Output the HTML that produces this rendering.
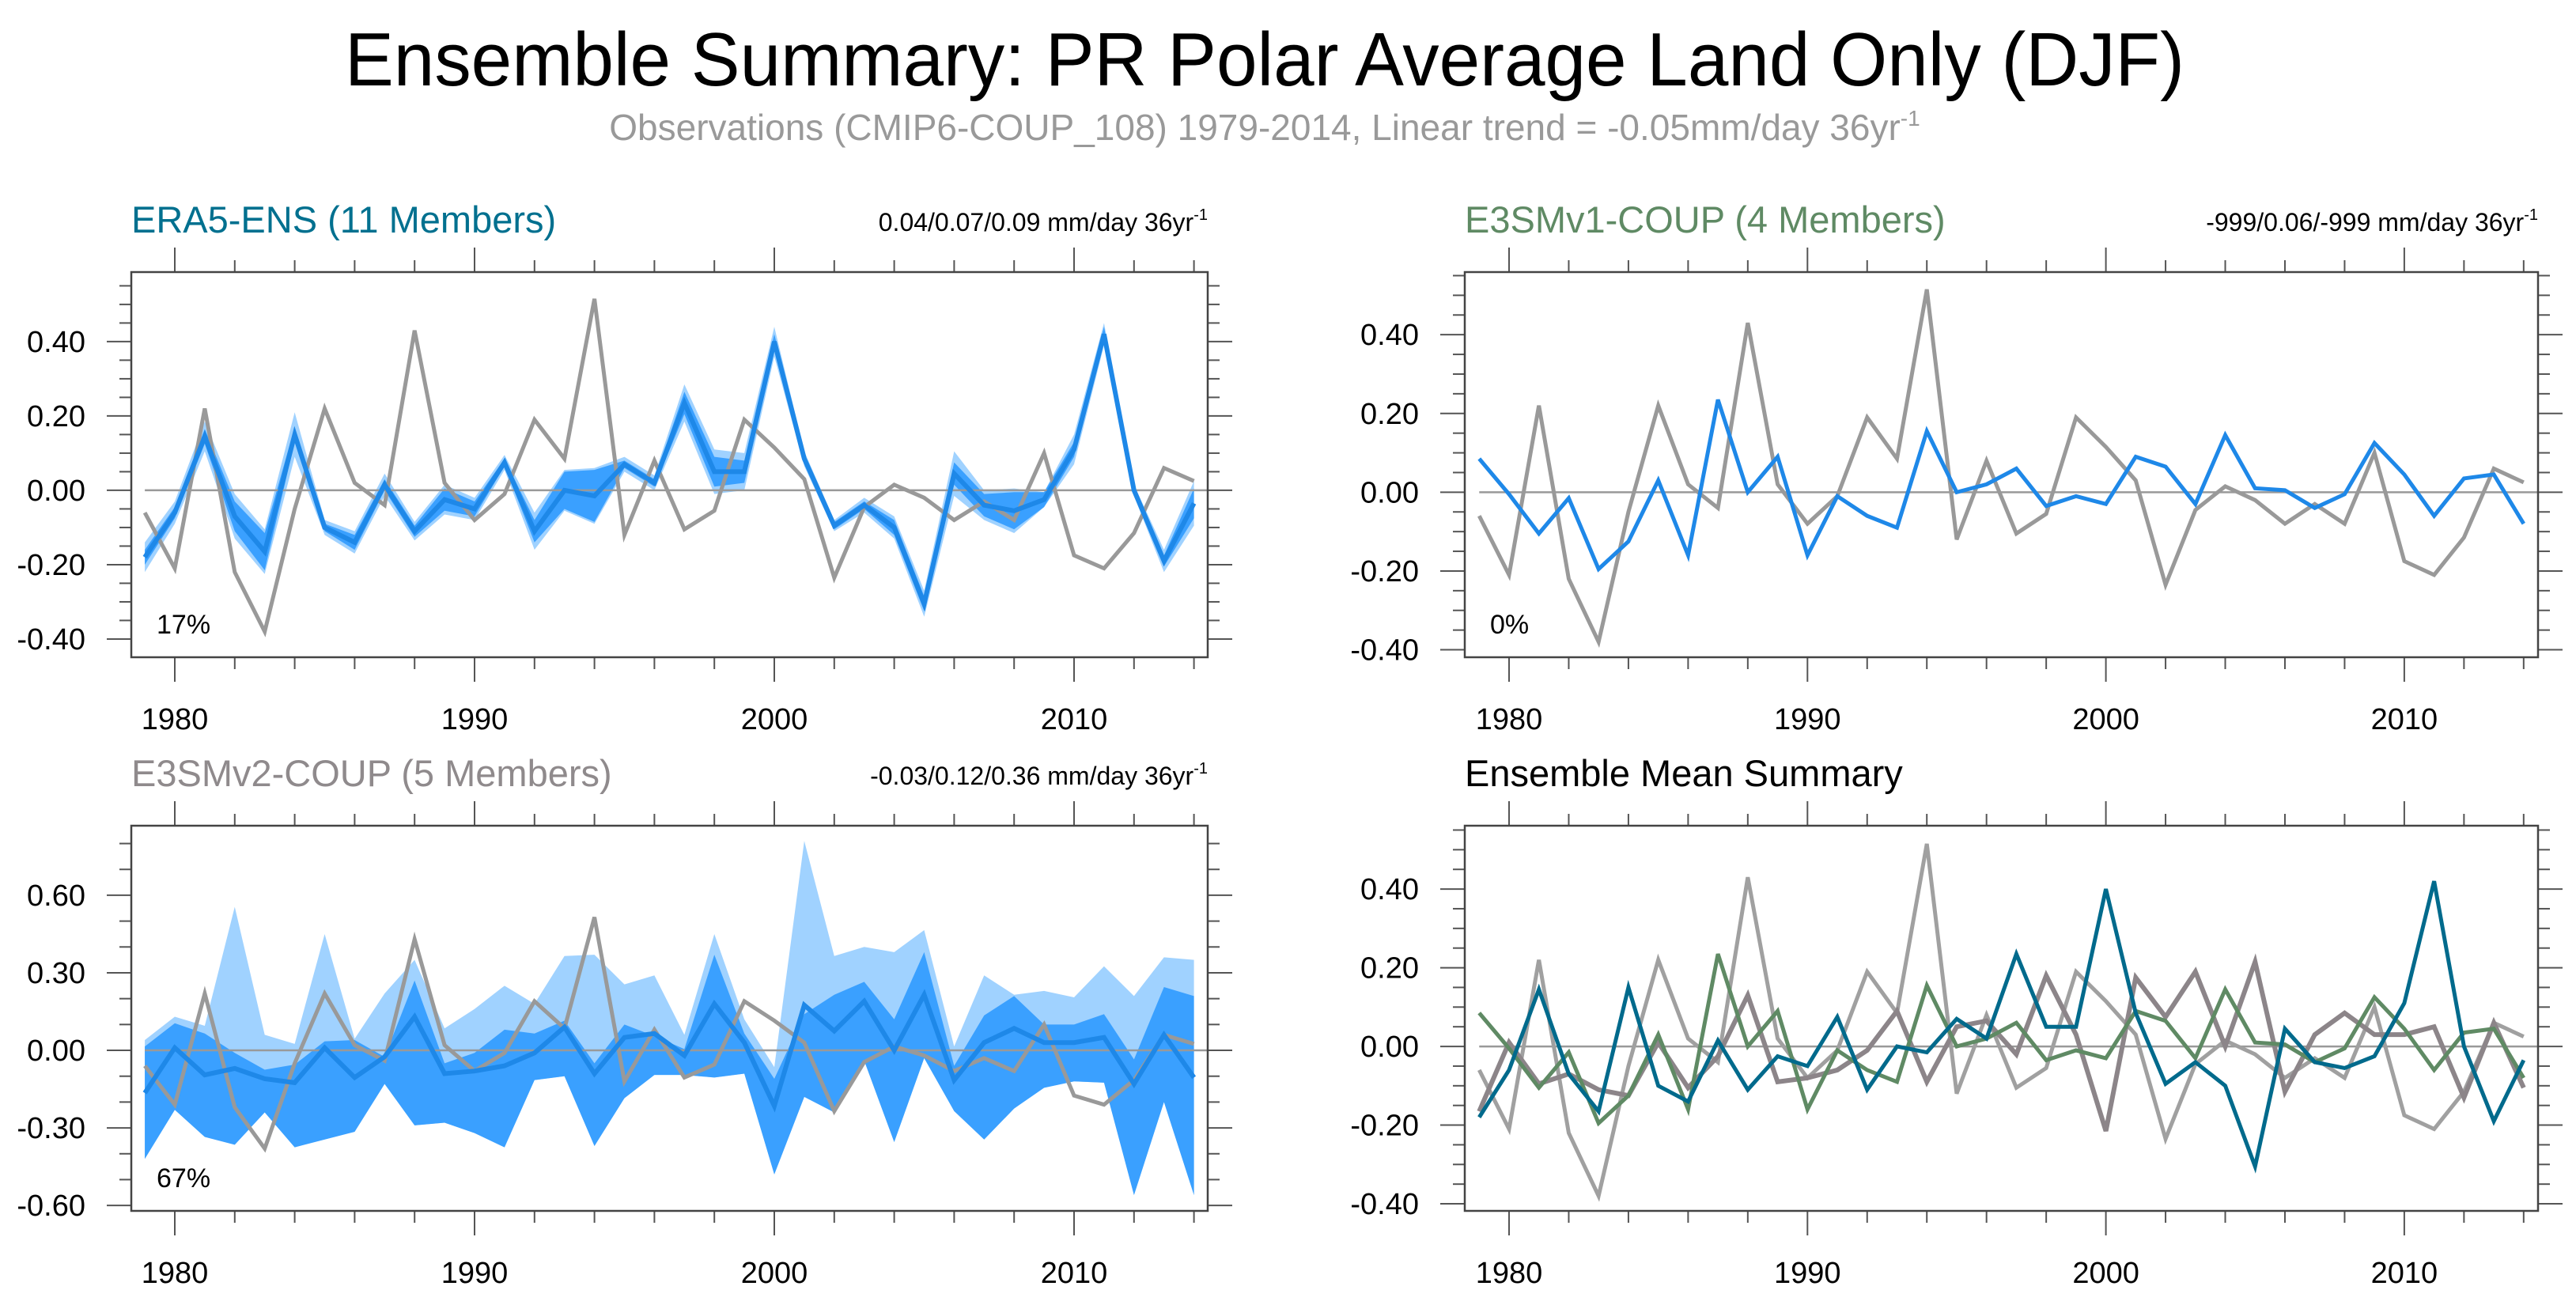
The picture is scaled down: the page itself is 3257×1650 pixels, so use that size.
<!DOCTYPE html>
<html><head><meta charset="utf-8"><style>
html,body{margin:0;padding:0;background:#fff;}
svg{display:block;font-family:"Liberation Sans",sans-serif;}
</style></head><body>
<svg id="chart" width="3257" height="1650" viewBox="0 0 3257 1650" xmlns="http://www.w3.org/2000/svg">
<text x="1599" y="108" text-anchor="middle" font-size="96" textLength="2326" lengthAdjust="spacingAndGlyphs" fill="#000">Ensemble Summary: PR Polar Average Land Only (DJF)</text>
<text x="1599" y="177" text-anchor="middle" font-size="46" fill="#999">Observations (CMIP6-COUP_108) 1979-2014, Linear trend = -0.05mm/day 36yr<tspan dy="-18" font-size="28">-1</tspan></text>
<g id="panels"></g>
</svg>
<script>
const years = [];
for (let y = 1979; y <= 2014; y++) years.push(y);
const obs = [-0.06,-0.21,0.22,-0.22,-0.38,-0.05,0.22,0.02,-0.04,0.43,0.02,-0.08,-0.01,0.19,0.085,0.515,-0.12,0.08,-0.105,-0.055,0.19,0.115,0.03,-0.235,-0.045,0.015,-0.02,-0.08,-0.03,-0.08,0.10,-0.175,-0.21,-0.115,0.06,0.025];
const era5Mean = [-0.18,-0.06,0.145,-0.07,-0.165,0.15,-0.10,-0.14,0.015,-0.11,-0.025,-0.05,0.075,-0.11,0.0,-0.015,0.07,0.02,0.235,0.05,0.05,0.40,0.085,-0.095,-0.04,-0.10,-0.305,0.045,-0.04,-0.055,-0.025,0.11,0.42,0.0,-0.19,-0.035];
const era5DarkHalf = [0.02,0.015,0.02,0.04,0.05,0.02,0.01,0.02,0.015,0.015,0.03,0.02,0.01,0.03,0.05,0.07,0.01,0.01,0.03,0.04,0.03,0.02,0.015,0.01,0.01,0.02,0.02,0.03,0.03,0.05,0.02,0.02,0.02,0.01,0.015,0.04];
const era5LightHalf = [0.04,0.03,0.04,0.06,0.06,0.06,0.02,0.03,0.03,0.025,0.04,0.03,0.02,0.05,0.055,0.075,0.02,0.02,0.05,0.06,0.05,0.04,0.02,0.015,0.02,0.03,0.035,0.06,0.04,0.06,0.02,0.04,0.03,0.015,0.03,0.06];
const v1Mean = [0.085,-0.005,-0.105,-0.015,-0.195,-0.125,0.03,-0.16,0.235,0.0,0.09,-0.16,-0.01,-0.06,-0.09,0.155,0.0,0.02,0.06,-0.035,-0.01,-0.03,0.09,0.065,-0.03,0.145,0.01,0.005,-0.04,-0.005,0.125,0.045,-0.06,0.035,0.045,-0.08];
const v2Mean = [-0.165,0.01,-0.095,-0.07,-0.11,-0.125,0.01,-0.105,-0.025,0.13,-0.09,-0.08,-0.06,-0.01,0.09,-0.09,0.05,0.065,-0.02,0.18,0.03,-0.215,0.175,0.075,0.19,0.0,0.215,-0.115,0.03,0.085,0.03,0.03,0.05,-0.13,0.06,-0.105];
const v2LightHi = [0.04,0.13,0.095,0.555,0.06,0.025,0.45,0.045,0.22,0.35,0.085,0.16,0.25,0.18,0.365,0.37,0.255,0.29,0.06,0.45,0.12,-0.065,0.81,0.365,0.40,0.38,0.465,0.015,0.29,0.215,0.23,0.205,0.325,0.21,0.36,0.35];
const v2DarkHi = [0.015,0.105,0.065,-0.01,-0.075,-0.055,0.035,0.04,-0.025,0.27,-0.05,-0.01,0.08,0.065,0.115,-0.05,0.10,0.055,0.005,0.37,0.065,-0.11,0.14,0.215,0.265,0.12,0.38,-0.06,0.135,0.21,0.10,0.10,0.14,-0.035,0.245,0.21];
const v2DarkLo = [-0.42,-0.23,-0.335,-0.365,-0.24,-0.375,-0.345,-0.315,-0.13,-0.29,-0.28,-0.32,-0.375,-0.115,-0.10,-0.37,-0.185,-0.095,-0.095,-0.105,-0.09,-0.48,-0.18,-0.24,-0.04,-0.355,-0.03,-0.235,-0.345,-0.225,-0.145,-0.12,-0.125,-0.56,-0.2,-0.56];
const yTicks1 = [-0.4,-0.2,0.0,0.2,0.4];
const yTicks2 = [-0.6,-0.3,0.0,0.3,0.6];
const xTicks = [1980,1990,2000,2010];

const NS = "http://www.w3.org/2000/svg";
const root = document.getElementById('panels');
function mk(tag, attrs, parent){ const e=document.createElementNS(NS,tag); for(const k in attrs) e.setAttribute(k,attrs[k]); (parent||root).appendChild(e); return e; }

function panel(cfg){
  const g = mk('g',{});
  
  
  const L=cfg.x0, R=cfg.x1, T=cfg.y0, B=cfg.y1;
  const xs = y => cfg.xa + (y-1980)*cfg.xs;
  const ys = v => T + (cfg.vmax - v)/(cfg.vmax-cfg.vmin)*(B-T);
  for(let yr=1980; yr<=2014; yr+=2){
    const maj = yr%10===0, len = maj?31:15, x=xs(yr);
    const t1=mk('line',{x1:x,x2:x,y1:T,y2:T-len,stroke:'#555','stroke-width':2},g);
     
    const t2=mk('line',{x1:x,x2:x,y1:B,y2:B+len,stroke:'#555','stroke-width':2},g);
     
  }
  const nMin = Math.round((cfg.vmax - cfg.vmin)/cfg.minor)+2;
  for(let i=-nMin;i<=nMin;i++){
    const v = i*cfg.minor; if(v>cfg.vmax||v<cfg.vmin) continue;
    const maj = Math.abs(v/cfg.major - Math.round(v/cfg.major))<1e-6, len=maj?31:15, y=ys(v);
    const a=mk('line',{x1:L,x2:L-len,y1:y,y2:y,stroke:'#555','stroke-width':2},g);
     
    const b=mk('line',{x1:R,x2:R+len,y1:y,y2:y,stroke:'#555','stroke-width':2},g);
     
  }
  cfg.yTicks.forEach(v=>{
    const t=mk('text',{x:L-58,y:ys(v)+13,'text-anchor':'end','font-size':38,fill:'#000'},g);
     
    t.textContent=v.toFixed(2);
  });
  xTicks.forEach(yr=>{
    const t=mk('text',{x:xs(yr),y:B+91,'text-anchor':'middle','font-size':38,fill:'#000'},g);
     
    t.textContent=yr;
  });
  const area=(hi,lo,fill,nm)=>{
    let d='M'+years.map((yr,i)=>xs(yr)+','+ys(hi[i])).join('L');
    for(let i=years.length-1;i>=0;i--) d+='L'+xs(years[i])+','+ys(lo[i]);
    const p=mk('path',{d:d+'Z',fill:fill,stroke:'none'},g);
     
  };
  const line=(vals,col,w,nm)=>{
    const p=mk('polyline',{points:years.map((yr,i)=>xs(yr)+','+ys(vals[i])).join(' '),fill:'none',stroke:col,'stroke-width':w,'stroke-linejoin':'miter'},g);
     
  };
  (cfg.bands||[]).forEach(b=>area(b.hi,b.lo,b.fill,b.name));
  const z=mk('line',{x1:xs(1979),x2:R,y1:ys(0),y2:ys(0),stroke:'#999','stroke-width':2.5},g);
   
  cfg.lines.forEach(l=>line(l.v,l.c,l.w,l.name));
  const box=mk('rect',{x:L,y:T,width:R-L,height:B-T,fill:'none',stroke:'#444','stroke-width':2.5},g);
   
  const tt=mk('text',{x:L,y:T-50,'font-size':47,fill:cfg.tcol},g);
   
  tt.textContent=cfg.title;
  if(cfg.rtext){
    const rt=mk('text',{x:R,y:T-52,'text-anchor':'end','font-size':32,fill:'#000'},g);
     
    rt.textContent=cfg.rtext;
    const sp=mk('tspan',{dy:-14,'font-size':20},rt); sp.textContent='-1';
  }
  if(cfg.pct){
    const pt=mk('text',{x:L+32,y:B-30,'font-size':34,fill:'#000'},g);
     
    pt.textContent=cfg.pct;
  }
}
const era5Dlo=era5Mean.map((v,i)=>v-era5DarkHalf[i]), era5Dhi=era5Mean.map((v,i)=>v+era5DarkHalf[i]);
const era5Llo=era5Mean.map((v,i)=>v-era5LightHalf[i]), era5Lhi=era5Mean.map((v,i)=>v+era5LightHalf[i]);
panel({name:'era5-panel',x0:166,x1:1527,y0:344,y1:831,xa:221,xs:37.9,vmin:-0.449,vmax:0.587,minor:0.05,major:0.2,yTicks:yTicks1,
  title:'ERA5-ENS (11 Members)',tcol:'#00708f',rtext:'0.04/0.07/0.09 mm/day 36yr',pct:'17%',
  bands:[{hi:era5Lhi,lo:era5Llo,fill:'#a0d2ff',name:'era5-range-band'},{hi:era5Dhi,lo:era5Dlo,fill:'#3aa0ff',name:'era5-iqr-band'}],
  lines:[{v:obs,c:'#999',w:5,name:'observations-line'},{v:era5Mean,c:'#1e88e8',w:6,name:'era5-mean-line'}]});
panel({name:'e3smv1-panel',x0:1852,x1:3209,y0:344,y1:831,xa:1908,xs:37.73,vmin:-0.419,vmax:0.559,minor:0.05,major:0.2,yTicks:yTicks1,
  title:'E3SMv1-COUP (4 Members)',tcol:'#5f8a64',rtext:'-999/0.06/-999 mm/day 36yr',pct:'0%',
  lines:[{v:obs,c:'#999',w:5,name:'observations-line'},{v:v1Mean,c:'#1e88e8',w:5,name:'e3smv1-mean-line'}]});
panel({name:'e3smv2-panel',x0:166,x1:1527,y0:1044,y1:1531,xa:221,xs:37.9,vmin:-0.621,vmax:0.869,minor:0.1,major:0.3,yTicks:yTicks2,
  title:'E3SMv2-COUP (5 Members)',tcol:'#8f8a8c',rtext:'-0.03/0.12/0.36 mm/day 36yr',pct:'67%',
  bands:[{hi:v2LightHi,lo:v2DarkLo,fill:'#a0d2ff',name:'e3smv2-range-band'},{hi:v2DarkHi,lo:v2DarkLo,fill:'#3aa0ff',name:'e3smv2-iqr-band'}],
  lines:[{v:obs,c:'#999',w:5,name:'observations-line'},{v:v2Mean,c:'#1e88e8',w:6,name:'e3smv2-mean-line'}]});
panel({name:'summary-panel',x0:1852,x1:3209,y0:1044,y1:1531,xa:1908,xs:37.73,vmin:-0.418,vmax:0.561,minor:0.05,major:0.2,yTicks:yTicks1,
  title:'Ensemble Mean Summary',tcol:'#000',
  lines:[{v:obs,c:'#a0a0a0',w:5,name:'observations-line'},{v:v2Mean,c:'#8c8589',w:6,name:'e3smv2-mean-line'},{v:v1Mean,c:'#5f8a64',w:5,name:'e3smv1-mean-line'},{v:era5Mean,c:'#006a8c',w:5,name:'era5-mean-line'}]});
</script>
</body></html>
